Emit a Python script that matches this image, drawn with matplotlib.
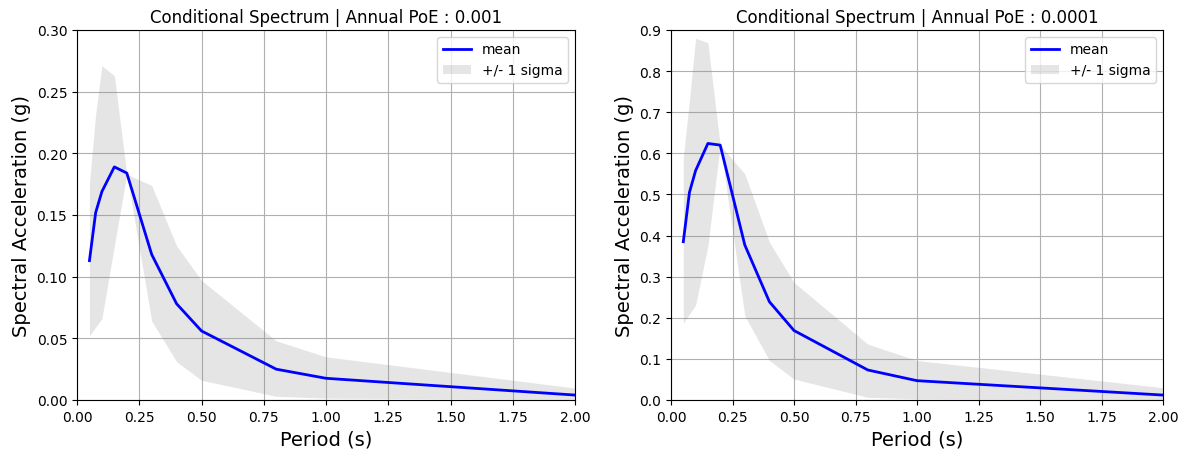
import matplotlib
matplotlib.use('Agg')
import matplotlib.pyplot as plt

# periods (s)
PERIODS = [0.05, 0.075, 0.1, 0.15, 0.2, 0.3, 0.4, 0.5, 0.8, 1.0, 2.0]

# PoE 0.001
MEAN_1 = [0.113, 0.152, 0.169, 0.189, 0.184, 0.118, 0.078, 0.056, 0.025, 0.0176, 0.004]
UP_1 = [0.176, 0.232, 0.271, 0.263, 0.183, 0.174, 0.125, 0.097, 0.048, 0.035, 0.0097]
LO_1 = [0.052, 0.059, 0.066, 0.125, 0.183, 0.064, 0.031, 0.016, 0.003, 0.0015, 0.0005]

# PoE 0.0001
MEAN_2 = [0.385, 0.505, 0.558, 0.624, 0.620, 0.377, 0.239, 0.169, 0.073, 0.047, 0.012]
UP_2 = [0.590, 0.730, 0.880, 0.869, 0.620, 0.550, 0.384, 0.286, 0.136, 0.096, 0.030]
LO_2 = [0.187, 0.209, 0.231, 0.375, 0.620, 0.205, 0.096, 0.051, 0.0065, 0.003, 0.001]

POES = ['0.001', '0.0001']
YMAX = [0.30, 0.9]
YTICKS = [[0.0, 0.05, 0.10, 0.15, 0.20, 0.25, 0.30],
          [0.0, 0.1, 0.2, 0.3, 0.4, 0.5, 0.6, 0.7, 0.8, 0.9]]
YFMT = ['%.2f', '%.1f']

fig = plt.figure(figsize=(11.84, 4.52), dpi=100)
ax1 = fig.add_axes([77/1184, 1-401/452, 498/1184, 370/452])
ax2 = fig.add_axes([671/1184, 1-401/452, 492/1184, 370/452])

data = [(MEAN_1, UP_1, LO_1), (MEAN_2, UP_2, LO_2)]
for i, ax in enumerate([ax1, ax2]):
    mean, up, lo = data[i]
    ax.plot(PERIODS, mean, color='blue', lw=2, label='mean')
    ax.fill_between(PERIODS, lo, up, color='gray', alpha=0.2, lw=0, label='+/- 1 sigma')
    ax.set_xlim(0, 2.0)
    ax.set_ylim(0, YMAX[i])
    ax.set_xticks([0, 0.25, 0.5, 0.75, 1.0, 1.25, 1.5, 1.75, 2.0])
    ax.xaxis.set_major_formatter(matplotlib.ticker.FormatStrFormatter('%.2f'))
    ax.set_yticks(YTICKS[i])
    ax.yaxis.set_major_formatter(matplotlib.ticker.FormatStrFormatter(YFMT[i]))
    ax.grid(True, color='#b0b0b0', lw=0.8)
    ax.set_axisbelow(True)
    ax.tick_params(labelsize=10)
    ax.set_xlabel('Period (s)', fontsize=14)
    ax.set_ylabel('Spectral Acceleration (g)', fontsize=14)
    ax.set_title('Conditional Spectrum | Annual PoE : ' + POES[i], fontsize=12)
    ax.legend(loc='upper right', fontsize=10)

fig.savefig('out.png', dpi=100)
